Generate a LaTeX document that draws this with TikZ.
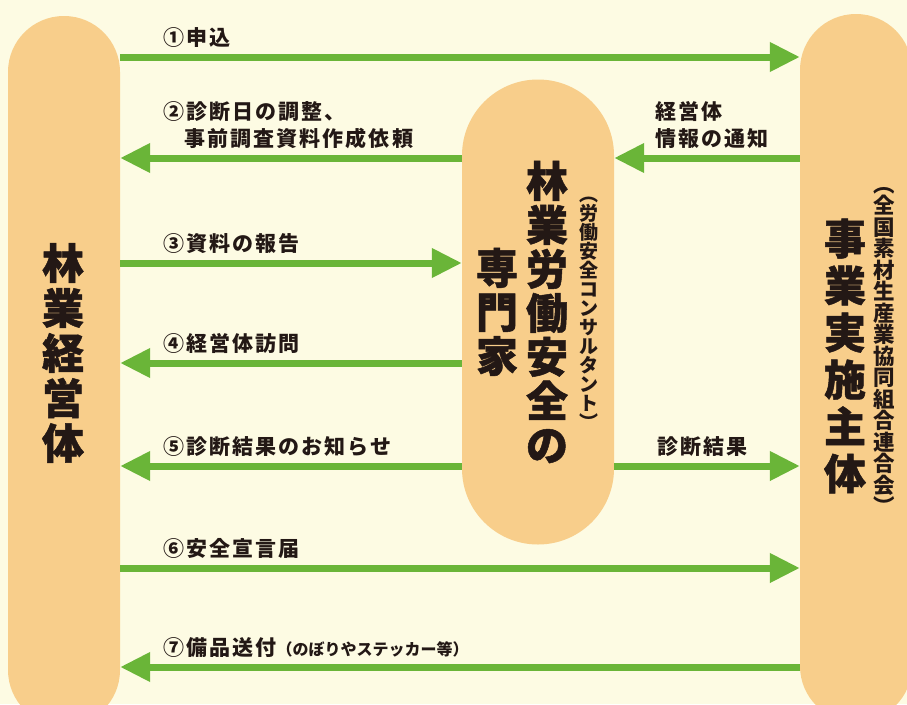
\documentclass[tikz,border=0pt]{standalone}
\usepackage{fontspec}
\newfontfamily\jp{Noto Sans CJK JP}
\newfontfamily\jplbl[LetterSpace=10]{Noto Sans CJK JP}
\newfontfamily\jpheavy[BoldFeatures={FakeBold=1.2}]{Noto Sans CJK JP}
\usetikzlibrary{arrows.meta,positioning}
\definecolor{bgcream}{HTML}{FDFBE3}
\definecolor{pillorange}{HTML}{F8CE8B}
\definecolor{arrgreen}{HTML}{6AB538}
\definecolor{inkdark}{HTML}{231815}

\begin{document}
\begin{tikzpicture}
[x=1pt,y=-1pt,
pill/.style={fill=pillorange, rounded corners=#1, inner sep=0pt},
arr/.style={draw=arrgreen, line width=7pt, -{Triangle[length=30pt,width=28pt]}},
lbl/.style={anchor=south west, inner sep=0pt, font=\jplbl\bfseries\fontsize{21}{27}\selectfont, text=inkdark, align=left},
big/.style={inner sep=0pt, align=center, font=\jpheavy\bfseries\fontsize{42}{#1}\selectfont, text=inkdark},
small/.style={inner sep=0pt, align=center, font=\jp\bfseries\fontsize{#1}{#1}\selectfont, text=inkdark},
]
\useasboundingbox (0,0) rectangle (907,704);
\fill[bgcream] (0,0) rectangle (907,704);
\clip (0,0) rectangle (907,704);

% the three bodies
\node (L) at (64,371) [pill=55.9pt, minimum width=112pt, minimum height=710pt] {};
\node (M) at (538,312) [pill=75.9pt, minimum width=152pt, minimum height=465pt] {};
\node (R) at (856,368) [pill=55.9pt, minimum width=112pt, minimum height=708pt] {};

% rows of the arrows
\foreach \n/\y in {1/57,2/158,3/263,4/363,5/466,6/568,7/667}
  \coordinate (r\n) at (0,\y);

\draw[arr] (L.east |- r1) -- (R.west |- r1);
\draw[arr] (M.west |- r2) -- (L.east |- r2);
\draw[arr] (R.west |- r2) -- (M.east |- r2);
\draw[arr] (L.east |- r3) -- (M.west |- r3);
\draw[arr] (M.west |- r4) -- (L.east |- r4);
\draw[arr] (M.west |- r5) -- (L.east |- r5);
\draw[arr] (M.east |- r5) -- (R.west |- r5);
\draw[arr] (L.east |- r6) -- (R.west |- r6);
\draw[arr] (R.west |- r7) -- (L.east |- r7);

% labels
\node[lbl] (t1) at (163,48) {①申込};
\node[lbl] (t2) at (163,149) {②診断日の調整、\\\phantom{②}事前調査資料作成依頼};
\node[lbl] (t2r) at (655,149) {経営体\\情報の通知};
\node[lbl] (t3) at (163,254) {③資料の報告};
\node[lbl] (t4) at (163,354) {④経営体訪問};
\node[lbl] (t5) at (163,457) {⑤診断結果のお知らせ};
\node[lbl] (t5r) at (657,457) {診断結果};
\node[lbl] (t6) at (163,559) {⑥安全宣言届};
\node[lbl] (t7) at (163,658) {⑦備品送付{\jp\fontsize{16}{20}\selectfont（のぼりやステッカー等）}};

% names in the bodies
\node[big=45] (Lname) at (63,353) {林\\業\\経\\営\\体};
\node[big=44] (Mname) at (547,312) {林\\業\\労\\働\\安\\全\\の};
\node[big=44] (Mname2) at (497,312) {専\\門\\家};
\node[small=19] (Msub) at (589,313) {︵\\労\\働\\安\\全\\コ\\ン\\サ\\ル\\タ\\ン\\ト\\︶};
\node[big=47] (Rname) at (845,356) {事\\業\\実\\施\\主\\体};
\node[small=21.5] (Rsub) at (884,351) {︵\\全\\国\\素\\材\\生\\産\\業\\協\\同\\組\\合\\連\\合\\会\\︶};
\end{tikzpicture}
\end{document}
